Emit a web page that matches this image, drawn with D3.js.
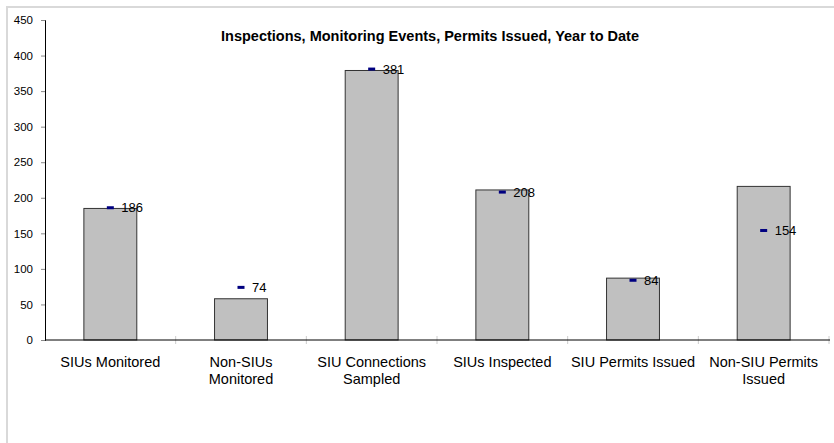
<!DOCTYPE html>
<html>
<head>
<meta charset="utf-8">
<script src="https://cdn.jsdelivr.net/npm/d3@7"></script>
<style>
  html, body { margin: 0; padding: 0; background: #fff; }
  svg { display: block; font-family: "Liberation Sans", Arial, sans-serif; }
</style>
</head>
<body>
<svg id="chart" width="834" height="443"></svg>
<script>
// ---- data ----
const title = "Inspections, Monitoring Events, Permits Issued, Year to Date";
const categories = ["SIUs Monitored", "Non-SIUs Monitored", "SIU Connections Sampled",
                    "SIUs Inspected", "SIU Permits Issued", "Non-SIU Permits Issued"];
const barValues = [185, 58, 379, 211, 87, 216];
const markerValues = [186, 74, 381, 208, 84, 154];
const yTicks = [0, 50, 100, 150, 200, 250, 300, 350, 400, 450];

(function () {
// ---- layout ----
const svg = d3.select("#chart");
const mLeft = 45, mRight = 829, mTop = 20, mBottom = 340;

svg.append("rect")
  .attr("x", 7).attr("y", 7).attr("width", 900).attr("height", 600)
  .attr("fill", "none").attr("stroke", "#d9d9d9").attr("stroke-width", 2);

const x = d3.scaleBand().domain(categories).range([mLeft, mRight]).paddingInner(0.595).paddingOuter(0.2975);
const xb = d3.scaleBand().domain(categories).range([mLeft, mRight]);
const y = d3.scaleLinear().domain([0, 450]).range([mBottom, mTop]);

// title
svg.append("text")
  .attr("x", 430).attr("y", 41)
  .attr("text-anchor", "middle")
  .attr("font-size", "14.5px").attr("font-weight", "bold")
  .text(title);

// y axis
const yAxis = svg.append("g").attr("transform", `translate(${mLeft},0)`)
  .call(d3.axisLeft(y).tickValues(yTicks).tickSize(4).tickPadding(8));
yAxis.select(".domain").attr("stroke", "#000").attr("stroke-width", 1);
yAxis.selectAll(".tick line").attr("stroke", "#888");
yAxis.selectAll(".tick text").attr("font-size", "11.5px").attr("fill", "#000")
  .attr("font-family", "'Liberation Sans', Arial, sans-serif");

// bars
svg.append("g").selectAll("rect").data(categories).join("rect")
  .attr("x", d => x(d))
  .attr("y", (d, i) => y(barValues[i]))
  .attr("width", x.bandwidth())
  .attr("height", (d, i) => y(0) - y(barValues[i]))
  .attr("fill", "#c0c0c0").attr("stroke", "#333").attr("stroke-width", 1);

// x axis: band boundary ticks
const bounds = categories.map(c => xb(c)).concat([mRight]);
svg.append("g").selectAll("line").data(bounds.slice(1)).join("line")
  .attr("x1", d => d).attr("x2", d => d)
  .attr("y1", mBottom - 4).attr("y2", mBottom + 4)
  .attr("stroke", "#ccc").attr("stroke-width", 1);
svg.append("line")
  .attr("x1", mLeft).attr("x2", mRight + 1).attr("y1", mBottom).attr("y2", mBottom)
  .attr("stroke", "#000").attr("stroke-width", 1);

// category labels with wrapping
const measure = svg.append("text").attr("font-size", "14.5px").attr("visibility", "hidden");
function wrap(str, maxW) {
  const words = str.split(" ");
  const lines = [];
  let cur = "";
  words.forEach(w => {
    const test = cur ? cur + " " + w : w;
    measure.text(test);
    if (measure.node().getComputedTextLength() > maxW && cur) { lines.push(cur); cur = w; }
    else cur = test;
  });
  if (cur) lines.push(cur);
  return lines;
}
const labelG = svg.append("g");
categories.forEach(c => {
  const lines = wrap(c, 127);
  const t = labelG.append("text")
    .attr("x", xb(c) + xb.bandwidth() / 2)
    .attr("y", 366.5)
    .attr("text-anchor", "middle")
    .attr("font-size", "14.5px").attr("fill", "#000");
  lines.forEach((ln, k) => {
    t.append("tspan").attr("x", xb(c) + xb.bandwidth() / 2).attr("dy", k === 0 ? 0 : 17).text(ln);
  });
});
measure.remove();

// markers
svg.append("g").selectAll("rect").data(categories).join("rect")
  .attr("x", d => xb(d) + xb.bandwidth() / 2 - 3.5)
  .attr("y", (d, i) => y(markerValues[i]) - 1.5)
  .attr("width", 7).attr("height", 3)
  .attr("fill", "#000080");

// marker labels
svg.append("g").selectAll("text").data(categories).join("text")
  .attr("x", d => xb(d) + xb.bandwidth() / 2 + 11)
  .attr("y", (d, i) => y(markerValues[i]) + 4.5)
  .attr("font-size", "13px").attr("fill", "#000")
  .text((d, i) => markerValues[i]);
})();
</script>
</body>
</html>
